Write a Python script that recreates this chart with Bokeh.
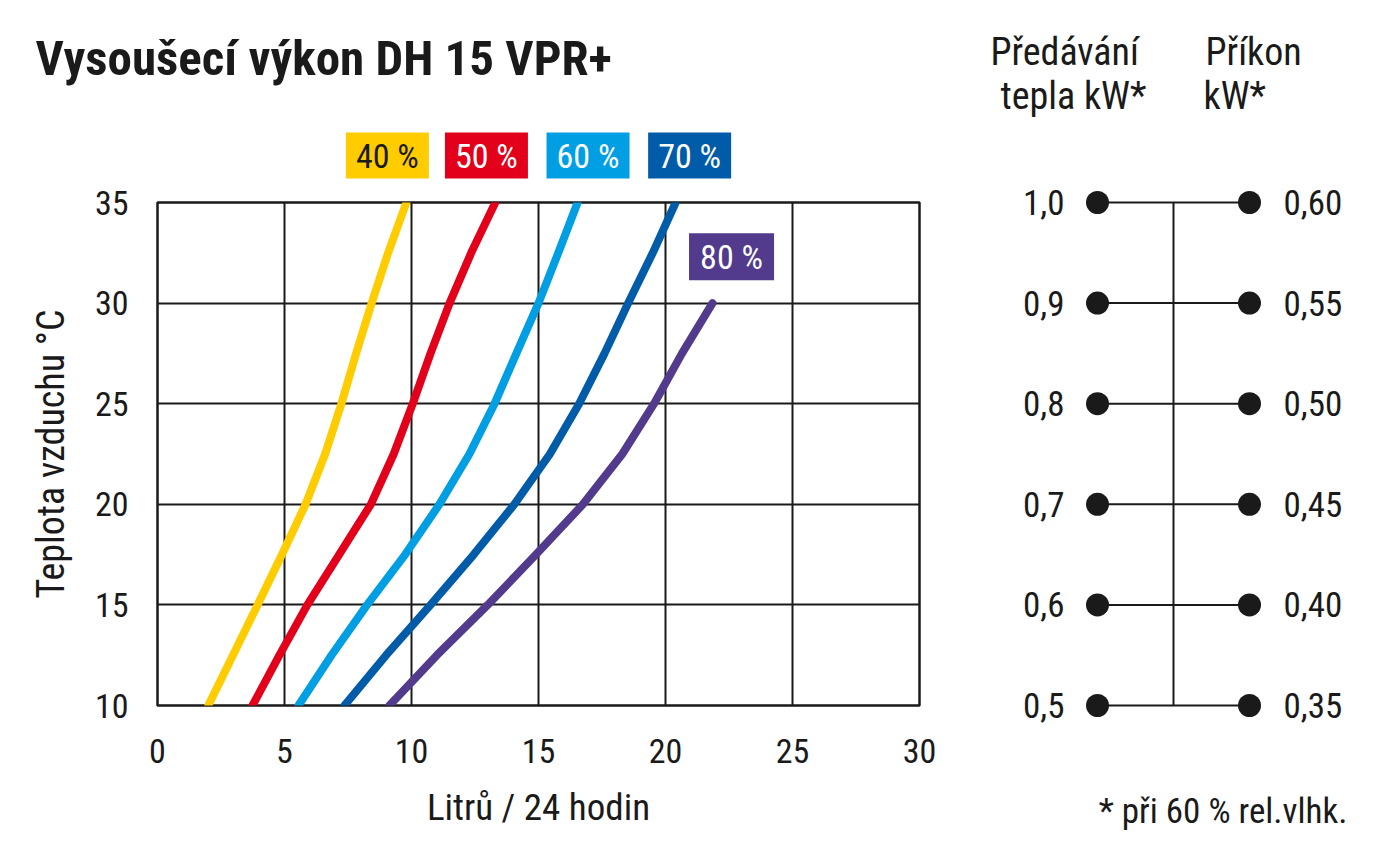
from bokeh.plotting import figure
from bokeh.models import Range1d, FixedTicker
from bokeh.layouts import row, column
from bokeh.embed import file_html
from bokeh.resources import INLINE
from bokeh.core.properties import value

# ---------------- data ----------------
temps = [10, 12.5, 15, 17.5, 20, 22.5, 25, 27.5, 30, 32.5, 35]
rh40 = [2.0, 2.97, 3.94, 4.9, 5.83, 6.6, 7.24, 7.82, 8.43, 9.08, 9.8]
rh50 = [3.74, 4.8, 5.9, 7.15, 8.4, 9.3, 10.05, 10.75, 11.5, 12.35, 13.3]
rh60 = [5.55, 6.85, 8.25, 9.75, 11.1, 12.28, 13.27, 14.13, 15.0, 15.78, 16.54]
rh70 = [7.36, 9.0, 10.75, 12.45, 14.05, 15.45, 16.6, 17.6, 18.53, 19.5, 20.4]
temps80 = [10, 12.5, 15, 17.5, 20, 22.5, 25, 27.5, 30]
rh80 = [9.13, 11.0, 13.0, 14.9, 16.75, 18.3, 19.55, 20.65, 21.85]

series_names = ["40 %", "50 %", "60 %", "70 %", "80 %"]
series_x = [rh40, rh50, rh60, rh70, rh80]
series_y = [temps, temps, temps, temps, temps80]
colors = ["#FFCC00", "#E2001A", "#009FE3", "#005CA9", "#523A8C"]
label_text_colors = ["#1a1a1a", "white", "white", "white", "white"]

x_ticks = [0, 5, 10, 15, 20, 25, 30]
y_ticks = [10, 15, 20, 25, 30, 35]

heat_kw = [0.5, 0.6, 0.7, 0.8, 0.9, 1.0]
heat_labels = ["0,5", "0,6", "0,7", "0,8", "0,9", "1,0"]
power_kw = [0.35, 0.40, 0.45, 0.50, 0.55, 0.60]
power_labels = ["0,35", "0,40", "0,45", "0,50", "0,55", "0,60"]

title_text = "Vysoušecí výkon DH 15 VPR+"
x_label = "Litrů / 24 hodin"
y_label = "Teplota vzduchu °C"
heat_header = ["Předávání", "tepla kW*"]
power_header = ["Příkon", "kW*"]
footnote = "* při 60 % rel.vlhk."

# ---------------- layout constants (pixels) ----------------
FONT = "'Roboto Condensed', 'Roboto', sans-serif"
INK = "#1a1a1a"
W_LEFT, W_RIGHT, H = 968, 432, 851
F_LEFT, F_RIGHT_PAD, F_TOP, F_BOTTOM_PAD = 157, 49, 202, 146
HEAD_H = 180
X0, X1 = 0, 30
Y0, Y1 = 10, 35
ppx = (W_LEFT - F_LEFT - F_RIGHT_PAD) / (X1 - X0)

# legend boxes: centres (data x) of the top row, in the header strip
box_x = [9.05, 12.95, 16.95, 20.95]
box_head_y = HEAD_H - 155      # px from bottom of header strip
box80_x, box80_y = 22.6, 32.3


def no_align(f):
    if "frame_align" in f.properties():
        f.frame_align = False


# ---------------- header strip (title + legend boxes) ----------------
h = figure(width=W_LEFT, height=HEAD_H, output_backend="svg", toolbar_location=None,
           x_range=Range1d(X0 - F_LEFT / ppx, X1 + F_RIGHT_PAD / ppx),
           y_range=Range1d(0, HEAD_H),
           min_border_left=0, min_border_right=0, min_border_top=0, min_border_bottom=0)
no_align(h)
h.outline_line_color = None
h.axis.visible = False
h.grid.visible = False
h.text(x=[X0 - 122 / ppx], y=[HEAD_H - 58], text=[title_text], text_font=value(FONT),
       text_font_size="49px", text_font_style="bold", text_color=INK,
       text_align="left", text_baseline="alphabetic")
h.rect(x=box_x, y=[box_head_y] * 4, width=83, height=46, width_units="screen",
       height_units="screen", fill_color=colors[:4], line_color=None)
h.text(x=box_x, y=[box_head_y] * 4, text=series_names[:4], text_font=value(FONT),
       text_font_size="34px", text_color=label_text_colors[:4],
       text_align="center", text_baseline="middle")

# ---------------- main chart ----------------
p = figure(width=W_LEFT, height=H - HEAD_H, output_backend="svg", toolbar_location=None,
           x_range=Range1d(X0, X1), y_range=Range1d(Y0, Y1),
           min_border_left=F_LEFT, min_border_right=F_RIGHT_PAD,
           min_border_top=F_TOP - HEAD_H, min_border_bottom=F_BOTTOM_PAD)
no_align(p)
p.background_fill_color = "white"
p.border_fill_color = "white"
p.outline_line_color = INK
p.outline_line_width = 2.5

for ax in (p.xaxis[0], p.yaxis[0]):
    ax.axis_line_color = None
    ax.major_tick_line_color = None
    ax.minor_tick_line_color = None
    ax.major_tick_out = 0
    ax.major_tick_in = 0
    ax.major_label_text_font = FONT
    ax.major_label_text_font_size = "34px"
    ax.major_label_text_color = INK
    ax.axis_label_text_font = FONT
    ax.axis_label_text_font_style = "normal"
    ax.axis_label_text_color = INK

p.xaxis.axis_label_text_font_size = "37px"
p.yaxis.axis_label_text_font_size = "38px"
p.xaxis.ticker = FixedTicker(ticks=x_ticks)
p.yaxis.ticker = FixedTicker(ticks=y_ticks)
p.xaxis.axis_label = x_label
p.yaxis.axis_label = y_label
p.xaxis.major_label_standoff = 33
p.yaxis.major_label_standoff = 29
p.xaxis.axis_label_standoff = 20
p.yaxis.axis_label_standoff = 19

for g in (p.xgrid[0], p.ygrid[0]):
    g.grid_line_color = INK
    g.grid_line_width = 2

for xs, ys, c in zip(series_x, series_y, colors):
    p.line(xs, ys, line_color=c, line_width=8, line_cap="round", line_join="round")

p.rect(x=[box80_x], y=[box80_y], width=85, height=47, width_units="screen",
       height_units="screen", fill_color=colors[4], line_color=None)
p.text(x=[box80_x], y=[box80_y], text=[series_names[4]], text_font=value(FONT),
       text_font_size="34px", text_color=label_text_colors[4],
       text_align="center", text_baseline="middle")

# ---------------- right panel ----------------
col_px = 129                     # left column position from panel's left edge
col_gap = 152                    # distance between the two columns
ppy_h = (H - F_TOP - F_BOTTOM_PAD) / (max(heat_kw) - min(heat_kw))
ppy_p = (H - F_TOP - F_BOTTOM_PAD) / (max(power_kw) - min(power_kw))

q = figure(width=W_RIGHT, height=H, output_backend="svg", toolbar_location=None,
           x_range=Range1d(-col_px / col_gap, (W_RIGHT - col_px) / col_gap),
           y_range=Range1d(min(heat_kw) - F_BOTTOM_PAD / ppy_h, max(heat_kw) + F_TOP / ppy_h),
           min_border_left=0, min_border_right=0, min_border_top=0, min_border_bottom=0)
no_align(q)
q.extra_y_ranges = {"power": Range1d(min(power_kw) - F_BOTTOM_PAD / ppy_p,
                                     max(power_kw) + F_TOP / ppy_p)}
q.background_fill_color = "white"
q.border_fill_color = "white"
q.outline_line_color = None
q.axis.visible = False
q.grid.visible = False

n = len(heat_kw)
q.segment(x0=[0] * n, y0=heat_kw, x1=[1] * n, y1=heat_kw, line_color=INK, line_width=2)
q.segment(x0=[0.5], y0=[min(heat_kw)], x1=[0.5], y1=[max(heat_kw)], line_color=INK, line_width=2)
q.scatter(x=[0] * n, y=heat_kw, size=23, fill_color=INK, line_color=None)
q.scatter(x=[1] * n, y=power_kw, size=23, fill_color=INK, line_color=None, y_range_name="power")
q.text(x=[0] * n, y=heat_kw, text=heat_labels, x_offset=-33, text_align="right",
       text_baseline="middle", text_font=value(FONT), text_font_size="35px", text_color=INK)
q.text(x=[1] * n, y=power_kw, text=power_labels, x_offset=34, text_align="left",
       text_baseline="middle", text_font=value(FONT), text_font_size="35px", text_color=INK,
       y_range_name="power")

top = max(heat_kw)
for i, t in enumerate(heat_header):
    q.text(x=[0], y=[top], text=[t], x_offset=-107 + 10 * i, y_offset=-151 + 44 * i,
           text_font=value(FONT), text_font_size="38px", text_color=INK,
           text_align="left", text_baseline="alphabetic")
for i, t in enumerate(power_header):
    q.text(x=[1], y=[top], text=[t], x_offset=-44 - 2 * i, y_offset=-151 + 44 * i,
           text_font=value(FONT), text_font_size="38px", text_color=INK,
           text_align="left", text_baseline="alphabetic")
q.text(x=[1], y=[min(heat_kw)], text=[footnote], x_offset=98, y_offset=106,
       text_font=value(FONT), text_font_size="35px", text_color=INK,
       text_align="right", text_baseline="alphabetic")

layout = row(column(h, p), q)
open("out.html", "w").write(file_html(layout, INLINE))
